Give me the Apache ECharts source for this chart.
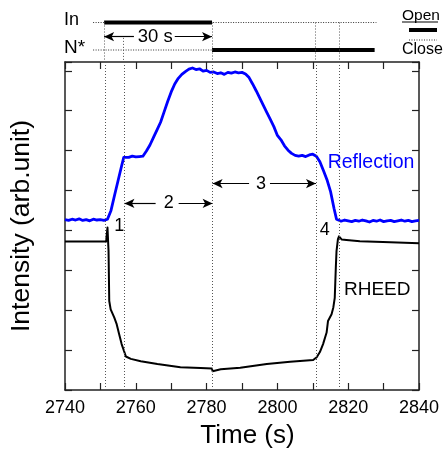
<!DOCTYPE html>
<html>
<head>
<meta charset="utf-8">
<script src="https://cdn.jsdelivr.net/npm/echarts@6/dist/echarts.min.js"></script>
<style>
  html, body { margin: 0; padding: 0; background: #fff; }
  #chart { width: 443px; height: 454px; }
</style>
</head>
<body>
<div id="chart"></div>
<script>
// Shutter timing (s)
const inOpen = [2751.3, 2781.7];
const nOpen = [2781.7, 2827.5];
const shutterSpan = [2748.2, 2828.0];
const markers = [2751.3, 2756.8, 2781.7, 2810.9, 2817.4];

// Reflection intensity trace
const reflTime = [2740, 2741, 2742, 2743, 2744, 2745, 2746, 2747, 2748, 2749, 2750, 2751, 2752, 2752.3,
  2753, 2754, 2755, 2756, 2756.6, 2757, 2758, 2759, 2760, 2761, 2762, 2763, 2764, 2765, 2766, 2767,
  2768, 2769, 2770, 2771, 2772, 2773, 2774, 2775, 2776, 2777, 2778, 2779, 2780, 2781, 2782, 2783,
  2784, 2785, 2786, 2787, 2788, 2789, 2790, 2791, 2792, 2793, 2794, 2795, 2796, 2797, 2798, 2799,
  2800, 2801, 2802, 2803, 2804, 2805, 2806, 2807, 2808, 2809, 2810, 2811, 2812, 2813, 2814, 2815,
  2816, 2816.7, 2817, 2818, 2819, 2820, 2821, 2822, 2823, 2824, 2825, 2826, 2827, 2828, 2829, 2830,
  2831, 2832, 2833, 2834, 2835, 2836, 2837, 2838, 2839, 2840];
const reflValue = [4.27, 4.25, 4.28, 4.26, 4.29, 4.25, 4.27, 4.24, 4.28, 4.26, 4.27, 4.25, 4.28, 4.27,
  4.50, 4.88, 5.25, 5.62, 5.83, 5.86, 5.83, 5.86, 5.84, 5.85, 5.86, 5.99, 6.14, 6.33, 6.52, 6.71,
  6.97, 7.23, 7.47, 7.67, 7.81, 7.91, 7.98, 8.04, 8.07, 8.03, 8.05, 7.99, 8.01, 7.96, 7.97, 7.93,
  7.95, 7.91, 7.96, 7.94, 7.97, 7.95, 7.96, 7.92, 7.83, 7.67, 7.50, 7.32, 7.14, 6.96, 6.78, 6.60,
  6.38, 6.27, 6.12, 6.01, 5.93, 5.88, 5.86, 5.88, 5.85, 5.89, 5.91, 5.86, 5.72, 5.50, 5.27, 4.98,
  4.55, 4.28, 4.25, 4.23, 4.26, 4.24, 4.22, 4.25, 4.23, 4.26, 4.24, 4.21, 4.25, 4.23, 4.26, 4.22,
  4.24, 4.25, 4.22, 4.24, 4.26, 4.23, 4.25, 4.22, 4.24, 4.25];

// RHEED intensity trace
const rheedTime = [2740, 2745, 2751.6, 2752.0, 2752.3, 2752.5, 2752.9, 2753.9, 2754.6, 2755.3, 2756.0,
  2757.2, 2758.6, 2761.4, 2766.1, 2772.6, 2778.3, 2781.5, 2781.7, 2781.9, 2784.0, 2789.5, 2797.0,
  2803.6, 2810.1, 2811.1, 2812.0, 2812.9, 2813.9, 2814.3, 2815.3, 2815.8, 2816.2, 2816.5, 2816.7,
  2817.1, 2817.4, 2818.2, 2819.5, 2823.3, 2829.8, 2840];
const rheedValue = [3.72, 3.72, 3.72, 4.07, 3.48, 2.23, 2.02, 1.82, 1.65, 1.40, 1.15,
  0.84, 0.78, 0.72, 0.65, 0.57, 0.55, 0.54, 0.47, 0.52, 0.52, 0.56, 0.65,
  0.71, 0.75, 0.82, 0.95, 1.15, 1.44, 1.73, 1.90, 2.07, 2.31, 3.06, 3.48,
  3.78, 3.85, 3.77, 3.76, 3.73, 3.71, 3.68];

// Interval arrows: start, end, label and the gap left open for the label
const intervals = [
  { from: 2751.3, to: 2781.7, text: '30 s', gap: [2759.7, 2771.2], row: 'top' },
  { from: 2756.8, to: 2781.7, text: '2', gap: [2765.6, 2772.1], row: 4.677 },
  { from: 2781.7, to: 2810.9, text: '3', gap: [2792.0, 2797.9], row: 5.174 }
];

const FONT = '"Liberation Sans", Arial, Helvetica, sans-serif';
const ROW_IN = 3.29, ROW_N = 1.0, ROW_ARROW = 2.11;

const zip = (a, b) => a.map((v, i) => [v, b[i]]);

// Two arrow segments with a gap in the middle for the label
function arrowSegments(iv, y) {
  return [
    [{ coord: [iv.from, y], symbol: 'arrow' }, { coord: [iv.gap[0], y], symbol: 'none' }],
    [{ coord: [iv.gap[1], y], symbol: 'none' }, { coord: [iv.to, y], symbol: 'arrow' }]
  ];
}

const topArrows = arrowSegments(intervals[0], ROW_ARROW);
const mainArrows = arrowSegments(intervals[1], intervals[1].row).concat(arrowSegments(intervals[2], intervals[2].row));

const connectors = markers.map((t, i) => [
  { coord: [t, i === 1 ? ROW_ARROW - 0.1 : ROW_IN], symbol: 'none' },
  { coord: [t, 0], symbol: 'none' }
]);

const frameLine = { show: true, onZero: false, lineStyle: { color: '#222', width: 1.5 } };
const tickIn = { show: true, inside: true, length: 7, lineStyle: { color: '#222', width: 1.2 } };

const option = {
  animation: false,
  backgroundColor: '#fff',
  grid: [
    { left: 64, right: 24, top: 14, height: 48, containLabel: false, show: false },
    { left: 64, right: 24, top: 62, bottom: 61, containLabel: false, show: false }
  ],
  xAxis: [
    { gridIndex: 0, type: 'value', min: 2740, max: 2840, show: false },
    {
      gridIndex: 1, type: 'value', min: 2740, max: 2840, interval: 10, position: 'bottom',
      axisLine: frameLine, axisTick: tickIn, splitLine: { show: false },
      axisLabel: {
        margin: 9, color: '#000', fontSize: 18, fontFamily: FONT,
        formatter: v => (v % 20 === 0 ? String(v) : '')
      },
      name: 'Time (s)', nameLocation: 'middle', nameGap: 33,
      nameTextStyle: { color: '#000', fontSize: 26, fontFamily: FONT, padding: [0, 0, 0, 11] }
    },
    {
      gridIndex: 1, type: 'value', min: 2740, max: 2840, interval: 10, position: 'top',
      axisLine: frameLine, axisTick: tickIn, axisLabel: { show: false }, splitLine: { show: false }
    }
  ],
  yAxis: [
    { gridIndex: 0, type: 'value', min: 0, max: 4, show: false },
    {
      gridIndex: 1, type: 'value', min: 0, max: 8.22, interval: 1, position: 'left',
      axisLine: frameLine, axisTick: tickIn, axisLabel: { show: false }, splitLine: { show: false },
      name: 'Intensity (arb.unit)', nameLocation: 'middle', nameGap: 30, nameRotate: 90,
      nameTextStyle: { color: '#000', fontSize: 26.5, fontFamily: FONT }
    },
    {
      gridIndex: 1, type: 'value', min: 0, max: 8.22, interval: 1, position: 'right',
      axisLine: frameLine, axisTick: tickIn, axisLabel: { show: false }, splitLine: { show: false }
    }
  ],
  series: [
    {
      // In shutter closed-state guide + timing connectors
      type: 'line', xAxisIndex: 0, yAxisIndex: 0, silent: true, symbol: 'none',
      data: [[shutterSpan[0], ROW_IN], [shutterSpan[1], ROW_IN]],
      lineStyle: { color: '#333', width: 1, type: [1, 1.5] },
      z: 2,
      markLine: {
        silent: true, animation: false, symbolSize: [6, 9],
        label: { show: false },
        lineStyle: { color: '#555', width: 1, type: [1, 2] },
        data: connectors
      }
    },
    {
      // N* shutter closed-state guide + 30 s arrow
      type: 'line', xAxisIndex: 0, yAxisIndex: 0, silent: true, symbol: 'none',
      data: [[shutterSpan[0], ROW_N], [inOpen[1], ROW_N]],
      lineStyle: { color: '#333', width: 1, type: [1, 1.5] },
      z: 2,
      markLine: {
        silent: true, animation: false, symbolSize: [7, 10],
        label: { show: false },
        lineStyle: { color: '#000', width: 1.2, type: 'solid' },
        data: topArrows
      }
    },
    {
      // In shutter open
      type: 'line', xAxisIndex: 0, yAxisIndex: 0, silent: true, symbol: 'none',
      data: [[inOpen[0], ROW_IN], [inOpen[1], ROW_IN]],
      lineStyle: { color: '#000', width: 4, cap: 'butt' }, z: 3
    },
    {
      // N* shutter open
      type: 'line', xAxisIndex: 0, yAxisIndex: 0, silent: true, symbol: 'none',
      data: [[nOpen[0], ROW_N], [nOpen[1], ROW_N]],
      lineStyle: { color: '#000', width: 4, cap: 'butt' }, z: 3
    },
    {
      name: 'Reflection', type: 'line', xAxisIndex: 1, yAxisIndex: 1, silent: true,
      symbol: 'none', data: zip(reflTime, reflValue),
      lineStyle: { color: '#0000ff', width: 2.8, join: 'round' }, z: 4,
      markLine: {
        silent: true, animation: false, symbolSize: [7, 10],
        label: { show: false },
        lineStyle: { color: '#000', width: 1.2, type: 'solid' },
        data: mainArrows
      }
    },
    {
      name: 'RHEED', type: 'line', xAxisIndex: 1, yAxisIndex: 1, silent: true,
      symbol: 'none', data: zip(rheedTime, rheedValue),
      lineStyle: { color: '#000', width: 2, join: 'round' }, z: 4,
      markLine: {
        silent: true, animation: false, symbol: ['none', 'none'],
        label: { show: false },
        lineStyle: { color: '#555', width: 1, type: [1, 2] },
        data: markers.map(t => ({ xAxis: t }))
      }
    }
  ]
};

const chart = echarts.init(document.getElementById('chart'));
chart.setOption(option);

// Text annotations anchored to data coordinates
const mainPx = p => chart.convertToPixel({ seriesIndex: 4 }, p);
const topPx = p => chart.convertToPixel({ seriesIndex: 0 }, p);

function txt(pos, text, opts) {
  return {
    type: 'text', x: pos[0], y: pos[1], silent: true, z: 100,
    style: Object.assign({
      text, fill: '#000', font: '18px ' + FONT, align: 'center', verticalAlign: 'middle'
    }, opts || {})
  };
}

const labelPts = {
  one: [2755.3, 4.12],
  two: [2769.3, 4.677],
  three: [2795.4, 5.174],
  four: [2813.4, 4.01],
  refl: [2814.2, 5.71],
  rheed: [2818.8, 2.52]
};

const graphics = [
  txt(mainPx(labelPts.one), '1'),
  txt(mainPx(labelPts.two), '2'),
  txt(mainPx(labelPts.three), '3'),
  txt(mainPx(labelPts.four), '4'),
  txt(mainPx(labelPts.refl), 'Reflection', { fill: '#0000ff', font: '19.5px ' + FONT, align: 'left' }),
  txt(mainPx(labelPts.rheed), 'RHEED', { font: '19px ' + FONT, align: 'left' }),
  txt(topPx([2765.7, ROW_ARROW]), '30 s', { font: '18.5px ' + FONT }),
  // shutter row names
  txt([64, 20], 'In', { font: '18px ' + FONT, align: 'left' }),
  txt([64, 48], 'N*', { font: '19px ' + FONT, align: 'left' }),
  // open/close key
  txt([402, 16], 'Open', { font: '15.5px ' + FONT, align: 'left' }),
  { type: 'line', silent: true, shape: { x1: 402, y1: 22, x2: 438, y2: 22 }, style: { stroke: '#000', lineWidth: 1 } },
  { type: 'line', silent: true, shape: { x1: 409, y1: 30, x2: 437, y2: 30 }, style: { stroke: '#000', lineWidth: 4 } },
  { type: 'line', silent: true, shape: { x1: 409, y1: 40, x2: 437, y2: 40 }, style: { stroke: '#333', lineWidth: 1, lineDash: [1, 1.5] } },
  txt([402, 50], 'Close', { font: '16px ' + FONT, align: 'left' })
];

chart.setOption({ graphic: graphics });
</script>
</body>
</html>
